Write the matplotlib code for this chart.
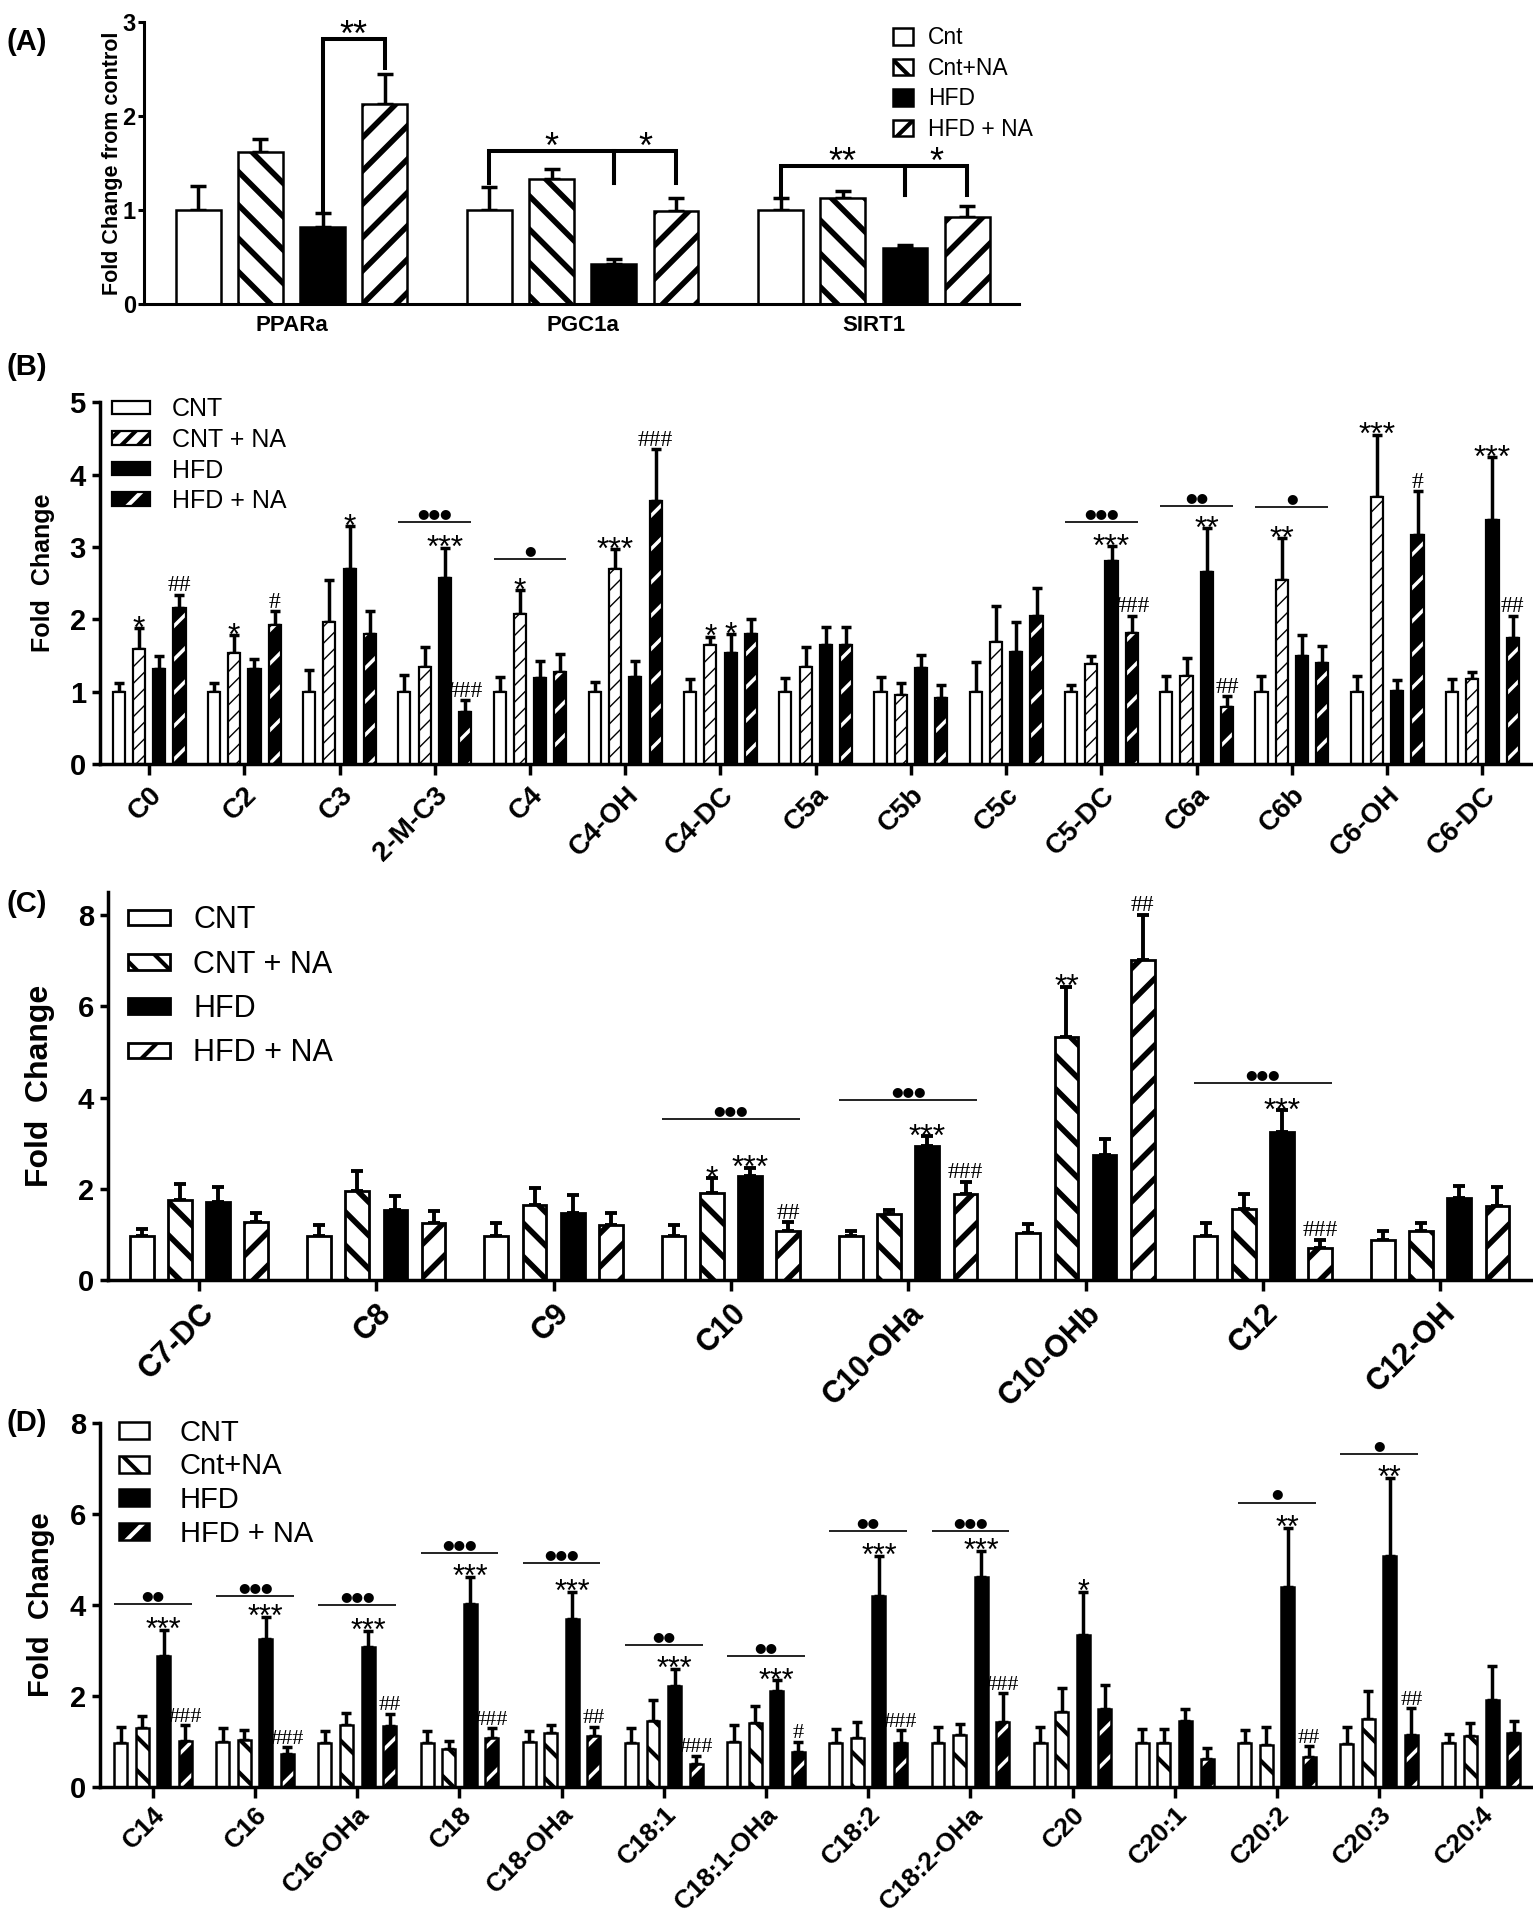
import matplotlib
matplotlib.use("Agg")
import matplotlib.pyplot as plt
import numpy as np
from matplotlib.patches import Patch

# ---------------- data ----------------
A_GENES = ["PPARa", "PGC1a", "SIRT1"]
A_LEGEND = ["Cnt", "Cnt+NA", "HFD", "HFD + NA"]
A_MEAN = [[1.00, 1.62, 0.82, 2.13],
          [1.00, 1.33, 0.43, 0.99],
          [1.00, 1.13, 0.60, 0.92]]
A_TOP = [[1.25, 1.75, 0.97, 2.45],
         [1.24, 1.43, 0.48, 1.13],
         [1.13, 1.20, 0.63, 1.04]]
# group, bar i, bar j, label, bracket level, left leg end, right leg end
A_BRACKETS = [(0, 2, 3, "**", 2.82, 0.98, 2.51),
              (1, 0, 2, "*", 1.63, 1.29, 1.29),
              (1, 2, 3, "*", 1.63, 1.29, 1.29),
              (2, 0, 2, "**", 1.47, 1.16, 1.16),
              (2, 2, 3, "*", 1.47, 1.16, 1.16)]

B_LABELS = ["C0", "C2", "C3", "2-M-C3", "C4", "C4-OH", "C4-DC", "C5a", "C5b",
            "C5c", "C5-DC", "C6a", "C6b", "C6-OH", "C6-DC"]
B_LEGEND = ["CNT", "CNT + NA", "HFD", "HFD + NA"]
B_MEAN = [[1.00, 1.59, 1.31, 2.16], [1.00, 1.53, 1.31, 1.92], [1.00, 1.96, 2.69, 1.80],
          [1.00, 1.34, 2.57, 0.72], [1.00, 2.08, 1.19, 1.27], [1.00, 2.70, 1.21, 3.64],
          [1.00, 1.64, 1.54, 1.80], [1.00, 1.34, 1.64, 1.65], [1.00, 0.96, 1.33, 0.92],
          [1.00, 1.69, 1.55, 2.04], [1.00, 1.38, 2.80, 1.81], [1.00, 1.22, 2.65, 0.79],
          [1.00, 2.55, 1.50, 1.40], [1.00, 3.69, 1.01, 3.17], [1.00, 1.18, 3.38, 1.74]]
B_TOP = [[1.12, 1.88, 1.50, 2.34], [1.12, 1.78, 1.45, 2.11], [1.30, 2.55, 3.29, 2.12],
         [1.23, 1.62, 2.99, 0.88], [1.21, 2.40, 1.42, 1.52], [1.14, 2.97, 1.42, 4.35],
         [1.18, 1.76, 1.80, 2.01], [1.19, 1.62, 1.89, 1.90], [1.20, 1.12, 1.51, 1.10],
         [1.41, 2.19, 1.97, 2.44], [1.10, 1.49, 3.01, 2.05], [1.22, 1.47, 3.26, 0.94],
         [1.22, 3.12, 1.79, 1.63], [1.22, 4.55, 1.16, 3.77], [1.18, 1.28, 4.24, 2.05]]
B_MARKS = [(0, 1, "*"), (0, 3, "##"), (1, 1, "*"), (1, 3, "#"), (2, 2, "*"),
           (3, 2, "***"), (3, 3, "###"), (4, 1, "*"), (5, 1, "***"), (5, 3, "###"),
           (6, 1, "*"), (6, 2, "*"), (10, 2, "***"), (10, 3, "###"), (11, 2, "**"),
           (11, 3, "##"), (12, 1, "**"), (13, 1, "***"), (13, 3, "#"),
           (14, 2, "***"), (14, 3, "##")]
B_LINES = [(3, "●●●", 3.35), (4, "●", 2.83), (10, "●●●", 3.35),
           (11, "●●", 3.56), (12, "●", 3.55)]

C_LABELS = ["C7-DC", "C8", "C9", "C10", "C10-OHa", "C10-OHb", "C12", "C12-OH"]
C_LEGEND = ["CNT", "CNT + NA", "HFD", "HFD + NA"]
C_MEAN = [[0.97, 1.76, 1.71, 1.27], [0.97, 1.96, 1.54, 1.24], [0.97, 1.65, 1.46, 1.20],
          [0.97, 1.90, 2.28, 1.08], [0.97, 1.45, 2.94, 1.89], [1.04, 5.32, 2.74, 7.01],
          [0.97, 1.55, 3.24, 0.70], [0.88, 1.07, 1.80, 1.63]]
C_TOP = [[1.12, 2.10, 2.03, 1.46], [1.20, 2.40, 1.84, 1.51], [1.26, 2.02, 1.86, 1.48],
         [1.20, 2.24, 2.46, 1.27], [1.07, 1.54, 3.15, 2.15], [1.23, 6.43, 3.09, 8.01],
         [1.25, 1.88, 3.73, 0.88], [1.08, 1.25, 2.07, 2.04]]
C_MARKS = [(3, 1, "*"), (3, 2, "***"), (3, 3, "##"), (4, 2, "***"), (4, 3, "###"),
           (5, 1, "**"), (5, 3, "##"), (6, 2, "***"), (6, 3, "###")]
C_LINES = [(3, "●●●", 3.53), (4, "●●●", 3.95), (6, "●●●", 4.32)]

D_LABELS = ["C14", "C16", "C16-OHa", "C18", "C18-OHa", "C18:1", "C18:1-OHa", "C18:2",
            "C18:2-OHa", "C20", "C20:1", "C20:2", "C20:3", "C20:4"]
D_LEGEND = ["CNT", "Cnt+NA", "HFD", "HFD + NA"]
D_MEAN = [[0.97, 1.29, 2.88, 1.01], [0.99, 1.03, 3.26, 0.73], [0.97, 1.36, 3.08, 1.34],
          [0.97, 0.83, 4.03, 1.08], [0.99, 1.18, 3.68, 1.12], [0.97, 1.46, 2.22, 0.50],
          [0.99, 1.40, 2.10, 0.76], [0.97, 1.07, 4.19, 0.97], [0.97, 1.14, 4.61, 1.42],
          [0.97, 1.65, 3.33, 1.71], [0.97, 0.97, 1.44, 0.62], [0.97, 0.92, 4.40, 0.65],
          [0.95, 1.50, 5.08, 1.14], [0.97, 1.11, 1.91, 1.18]]
D_TOP = [[1.32, 1.55, 3.46, 1.36], [1.29, 1.26, 3.74, 0.87], [1.24, 1.63, 3.43, 1.61],
         [1.24, 1.01, 4.61, 1.29], [1.24, 1.36, 4.28, 1.32], [1.29, 1.92, 2.59, 0.69],
         [1.36, 1.77, 2.34, 0.99], [1.27, 1.42, 5.08, 1.25], [1.31, 1.39, 5.19, 2.06],
         [1.31, 2.18, 4.28, 2.24], [1.27, 1.27, 1.71, 0.86], [1.25, 1.31, 5.69, 0.90],
         [1.31, 2.10, 6.79, 1.73], [1.17, 1.40, 2.65, 1.46]]
D_MARKS = [(0, 2, "***"), (0, 3, "###"), (1, 2, "***"), (1, 3, "###"), (2, 2, "***"),
           (2, 3, "##"), (3, 2, "***"), (3, 3, "###"), (4, 2, "***"), (4, 3, "##"),
           (5, 2, "***"), (5, 3, "###"), (6, 2, "***"), (6, 3, "#"), (7, 2, "***"),
           (7, 3, "###"), (8, 2, "***"), (8, 3, "###"), (9, 2, "*"), (11, 2, "**"),
           (11, 3, "##"), (12, 2, "**"), (12, 3, "##")]
D_LINES = [(0, "●●", 4.01), (1, "●●●", 4.20), (2, "●●●", 3.99), (3, "●●●", 5.14),
           (4, "●●●", 4.92), (5, "●●", 3.11), (6, "●●", 2.88), (7, "●●", 5.63),
           (8, "●●●", 5.62), (11, "●", 6.25), (12, "●", 7.31)]

# ---------------- styles ----------------
NARROW = ["Liberation Sans Narrow", "Liberation Sans", "DejaVu Sans"]
SERIF = ["Liberation Serif", "DejaVu Serif"]
plt.rcParams["font.family"] = ["Liberation Sans", "DejaVu Sans"]
plt.rcParams["hatch.linewidth"] = 3.0
FIG_W, FIG_H = 1533, 1920

# (face, hatch, hatch colour)
A_STYLES = [("white", None, "black"), ("white", "\\", "black"),
            ("black", None, "black"), ("white", "/", "black")]
B_STYLES = [("white", None, "black"), ("white", "//", "black"),
            ("black", None, "black"), ("black", "/", "white")]
C_STYLES = [("white", None, "black"), ("white", "\\", "black"),
            ("black", None, "black"), ("white", "/", "black")]
D_STYLES = [("white", None, "black"), ("white", "\\", "black"),
            ("black", None, "black"), ("black", "/", "white")]


def set_hlw(artists, lw):
    for a in artists:
        if hasattr(a, "set_hatch_linewidth"):
            a.set_hatch_linewidth(lw)


def draw_bars(ax, means, tops, styles, hatch_lws, width, spacing, bar_lw, err_lw, capsize):
    means = np.asarray(means, dtype=float)
    tops = np.asarray(tops, dtype=float)
    base = np.arange(len(means)) * spacing
    for j, (face, hatch, hcolor) in enumerate(styles):
        x = base + j
        h = means[:, j]
        ax.errorbar(x, h, yerr=[np.zeros_like(h), tops[:, j] - h], fmt="none",
                    ecolor="black", elinewidth=err_lw, capsize=capsize,
                    capthick=err_lw, zorder=1)
        if hcolor == "white":
            bars = ax.bar(x, h, width, color=face, edgecolor="white", hatch=hatch,
                          linewidth=0, zorder=2)
            set_hlw(bars, hatch_lws[j])
            ax.bar(x, h, width, fill=False, edgecolor="black", linewidth=bar_lw, zorder=3)
        else:
            bars = ax.bar(x, h, width, color=face, edgecolor="black", hatch=hatch,
                          linewidth=bar_lw, zorder=2)
            set_hlw(bars, hatch_lws[j])
    return base


def legend_handles(styles, hatch_lws, bar_lw):
    handles = []
    for j, (face, hatch, hcolor) in enumerate(styles):
        if hcolor == "white":
            under = Patch(facecolor=face, edgecolor="white", hatch=hatch, linewidth=0)
            set_hlw([under], hatch_lws[j])
            over = Patch(facecolor="none", edgecolor="black", linewidth=bar_lw)
            handles.append((under, over))
        else:
            p = Patch(facecolor=face, edgecolor="black", hatch=hatch, linewidth=bar_lw)
            set_hlw([p], hatch_lws[j])
            handles.append(p)
    return handles


def add_legend(ax, fig, styles, hatch_lws, bar_lw, labels, left_px, center_px, size,
               hlen, hheight, tpad, lspace):
    em = size * 100 / 72
    top = center_px - 0.38 * em
    ax.legend(legend_handles(styles, hatch_lws, bar_lw), labels, loc="upper left",
              bbox_to_anchor=(left_px / FIG_W, 1 - top / FIG_H),
              bbox_transform=fig.transFigure, frameon=False, borderpad=0,
              borderaxespad=0, handlelength=hlen, handleheight=hheight,
              handletextpad=tpad, labelspacing=lspace,
              prop={"family": NARROW, "size": size})


def add_marks(ax, base, tops, marks, star_size, hash_size):
    for g, j, text in marks:
        x = base[g] + j
        y = tops[g][j]
        if "#" in text:
            ax.annotate(text, (x, y), xytext=(0, 2.5), textcoords="offset points",
                        ha="center", va="baseline", fontsize=hash_size, family=SERIF)
        else:
            ax.annotate(text, (x, y), xytext=(0, -0.3 * star_size),
                        textcoords="offset points", ha="center", va="baseline",
                        fontsize=star_size)


def add_lines(ax, base, width, lines, dot_size):
    for g, dots, level in lines:
        x0 = base[g] - width / 2
        x1 = base[g] + 3 + width / 2
        ax.plot([x0, x1], [level, level], color="#222222", lw=1.4,
                solid_capstyle="butt", zorder=4)
        ax.annotate(dots, ((x0 + x1) / 2, level), xytext=(0, 1.5),
                    textcoords="offset points", ha="center", va="bottom",
                    fontsize=dot_size, family=["DejaVu Sans"])


def style_axes(ax, ymax, yticks, ysize, spine_lw, pad=4):
    ax.set_ylim(0, ymax)
    ax.set_yticks(yticks, labels=[str(t) for t in yticks], fontsize=ysize,
                  fontweight="bold", family=NARROW)
    for s in ("top", "right"):
        ax.spines[s].set_visible(False)
    for s in ("left", "bottom"):
        ax.spines[s].set_linewidth(spine_lw)
    ax.tick_params(axis="y", length=6, width=spine_lw, pad=pad)


def main() -> None:
    fig = plt.figure(figsize=(FIG_W / 100, FIG_H / 100), dpi=100)

    # ---------------- panel A ----------------
    ax = fig.add_axes([0.094, 0.8417, 0.571, 0.1469])
    hl = [3, 4, 3, 4]
    base = draw_bars(ax, A_MEAN, A_TOP, A_STYLES, hl, 0.72, 4.68, 1.8, 2.5, 6)
    style_axes(ax, 3, [0, 1, 2, 3], 17, 2.2, pad=2)
    ax.tick_params(axis="y", length=4)
    ax.set_xlim(-0.87, base[-1] + 3 + 0.84)
    ax.set_xticks(base + 1.5, labels=A_GENES, fontsize=16, fontweight="bold", family=NARROW)
    ax.tick_params(axis="x", length=0, pad=8)
    ax.set_ylabel("Fold Change from control", fontsize=15.5, fontweight="bold")
    ax.yaxis.set_label_coords(-0.024, 0.5)
    for g, i, j, text, top, left_end, right_end in A_BRACKETS:
        xi, xj = base[g] + i, base[g] + j
        ax.plot([xi, xi, xj, xj], [left_end, top, top, right_end], color="black",
                lw=2.9, solid_joinstyle="miter", zorder=4)
        ax.annotate(text, ((xi + xj) / 2, top), xytext=(0, -5), textcoords="offset points",
                    ha="center", va="baseline", fontsize=26)
    add_legend(ax, fig, A_STYLES, hl, 1.8, A_LEGEND, 893, 35, 16.5, 0.87, 0.74, 0.65, 0.33)

    # ---------------- panel B ----------------
    ax = fig.add_axes([0.065, 0.602, 0.935, 0.1885])
    hl = [1, 1.0, 1, 2.5]
    base = draw_bars(ax, B_MEAN, B_TOP, B_STYLES, hl, 0.6, 4.7, 1.6, 2.5, 3.5)
    style_axes(ax, 5, [0, 1, 2, 3, 4, 5], 21, 2.5)
    ax.set_xlim(-0.94, base[-1] + 1.5 + 2.5)
    ax.set_xticks(base + 1.5, labels=B_LABELS, rotation=45, ha="right",
                  rotation_mode="anchor", fontsize=20, fontweight="bold")
    ax.tick_params(axis="x", length=8, width=2.5, pad=5)
    ax.set_ylabel("Fold  Change", fontsize=18, fontweight="bold")
    ax.yaxis.set_label_coords(-0.031, 0.53)
    add_marks(ax, base, B_TOP, B_MARKS, 23, 17)
    add_lines(ax, base, 0.6, B_LINES, 9.5)
    add_legend(ax, fig, B_STYLES, hl, 1.6, B_LEGEND, 112, 407, 18, 1.52, 0.44, 0.88, 0.26)

    # ---------------- panel C ----------------
    ax = fig.add_axes([0.0705, 0.3333, 0.9295, 0.202])
    hl = [1, 4, 1, 4]
    base = draw_bars(ax, C_MEAN, C_TOP, C_STYLES, hl, 0.62, 4.64, 2.0, 2.8, 4.5)
    style_axes(ax, 8.5, [0, 2, 4, 6, 8], 21, 2.5)
    ax.set_xlim(-0.88, base[-1] + 1.5 + 2.43)
    ax.set_xticks(base + 1.5, labels=C_LABELS, rotation=45, ha="right",
                  rotation_mode="anchor", fontsize=22, fontweight="bold")
    ax.tick_params(axis="x", length=8, width=2.5, pad=5)
    ax.set_ylabel("Fold  Change", fontsize=23, fontweight="bold")
    ax.yaxis.set_label_coords(-0.037, 0.5)
    add_marks(ax, base, C_TOP, C_MARKS, 23, 17)
    add_lines(ax, base, 0.62, C_LINES, 9.5)
    add_legend(ax, fig, C_STYLES, hl, 2.0, C_LEGEND, 128, 917, 22, 1.38, 0.42, 0.75, 0.47)

    # ---------------- panel D ----------------
    ax = fig.add_axes([0.065, 0.0693, 0.935, 0.1896])
    hl = [1, 3, 1, 2.5]
    base = draw_bars(ax, D_MEAN, D_TOP, D_STYLES, hl, 0.6, 4.74, 1.8, 2.5, 3.5)
    style_axes(ax, 8, [0, 2, 4, 6, 8], 21, 2.5)
    ax.set_xlim(-0.97, base[-1] + 1.5 + 2.4)
    ax.set_xticks(base + 1.5, labels=D_LABELS, rotation=45, ha="right",
                  rotation_mode="anchor", fontsize=19, fontweight="bold")
    ax.tick_params(axis="x", length=8, width=2.5, pad=3)
    ax.set_ylabel("Fold  Change", fontsize=21, fontweight="bold")
    ax.yaxis.set_label_coords(-0.031, 0.5)
    add_marks(ax, base, D_TOP, D_MARKS, 22, 16)
    add_lines(ax, base, 0.6, D_LINES, 9.5)
    add_legend(ax, fig, D_STYLES, hl, 1.8, D_LEGEND, 119, 1430, 21, 1.03, 0.52, 1.05, 0.19)

    for text, y in [("(A)", 42), ("(B)", 367), ("(C)", 904), ("(D)", 1423)]:
        fig.text(0.004, 1 - y / FIG_H, text, fontsize=21, fontweight="bold",
                 ha="left", va="center")

    fig.savefig("out.png", dpi=100)


if __name__ == "__main__":
    main()
